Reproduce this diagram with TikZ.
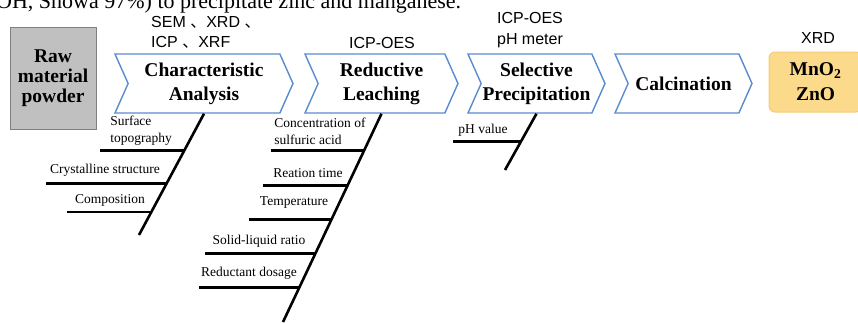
\documentclass[tikz,border=0pt]{standalone}
\usepackage{fontspec}
\setmainfont{Liberation Serif}
\setsansfont{Liberation Sans}
\newfontfamily\cjk{Noto Sans CJK SC}
\usepackage{xcolor}
\usetikzlibrary{shapes.symbols}
\definecolor{chevblue}{HTML}{5B8BD0}
\definecolor{rawgray}{HTML}{C0C0C0}
\definecolor{prodfill}{HTML}{FCDA8C}
\definecolor{prodline}{HTML}{F3CB75}
\tikzstyle{chev} = [signal, signal from=west, signal to=east, signal pointer angle=132, draw=chevblue, line width=1.4pt, fill=white, minimum height=59pt, align=center, inner sep=0pt, font=\fontsize{19.5}{24}\selectfont\bfseries]
\tikzstyle{bone} = [line width=2.6pt]
\tikzstyle{cause} = [align=left, inner sep=0pt, font=\fontsize{13.5}{17}\selectfont]
\tikzstyle{tool} = [align=left, inner sep=0pt, font=\sffamily\fontsize{16}{20.5}\selectfont]

\begin{document}
\begin{tikzpicture}[x=1pt, y=-1pt]
        \useasboundingbox (0,0) rectangle (858,322);
        \clip (0,0) rectangle (858,322);

        % cut-off line of the page above
        \node[anchor=base west, inner sep=0pt, font=\fontsize{22}{26}\selectfont] (capt) at (-4,8) {OH, Showa 97\%) to precipitate zinc and manganese.};

        % Process steps
        \node[draw=gray, fill=rawgray, line width=1pt, minimum width=86pt, minimum height=102pt, align=center, inner sep=0pt, font=\fontsize{19.5}{20}\selectfont\bfseries] (raw) at (53,78) {Raw\\material\\powder};
        \node[chev, minimum width=178pt] (ca) at (204,83.5) {Characteristic\\Analysis};
        \node[chev, minimum width=153pt] (rl) at (381.5,83.5) {Reductive\\Leaching};
        \node[chev, minimum width=137pt] (sp) at (536.5,83.5) {Selective\\Precipitation};
        \node[chev, minimum width=137pt] (cal) at (683.5,83.5) {Calcination};
        \node[draw=prodline, fill=prodfill, rounded corners=6pt, line width=1pt, minimum width=93pt, minimum height=60pt, align=center, inner sep=0pt, font=\fontsize{19.5}{25}\selectfont\bfseries] (prod) at (815.5,82) {MnO\textsubscript{2}\\ZnO};

        % Instruments
        \node[tool, anchor=west] (ca-tool) at (151,32.5) {SEM\ {\cjk 、}XRD\ {\cjk 、}\\ICP\ {\cjk 、}XRF};
        \node[tool] (rl-tool) at (382,43) {ICP-OES};
        \node[tool] (sp-tool) at (530,30) {ICP-OES\\pH meter};
        \node[tool] (prod-tool) at (818,38) {XRD};

        % Bones
        \coordinate (ca-end) at (139,235);
        \coordinate (rl-end) at (283,322);
        \coordinate (sp-end) at (505,170);
        \draw[bone] (ca.south) -- (ca-end) coordinate[pos=0.303] (ca-1) coordinate[pos=0.574] (ca-2) coordinate[pos=0.811] (ca-3);
        \draw[bone] (rl.south) -- (rl-end) coordinate[pos=0.177] (rl-1) coordinate[pos=0.344] (rl-2) coordinate[pos=0.507] (rl-3) coordinate[pos=0.670] (rl-4) coordinate[pos=0.833] (rl-5);
        \draw[bone] (sp.south) -- (sp-end) coordinate[pos=0.49] (sp-1);

        \coordinate (surf-l) at (100,0);
        \coordinate (cryst-l) at (46,0);
        \coordinate (comp-l) at (67,0);
        \coordinate (conc-l) at (271,0);
        \coordinate (time-l) at (263,0);
        \coordinate (temp-l) at (249,0);
        \coordinate (ratio-l) at (205,0);
        \coordinate (dose-l) at (199,0);
        \coordinate (ph-l) at (453,0);

        \draw[bone] (ca-1) -- (ca-1 -| surf-l);
        \draw[bone] (ca-2) -- (ca-2 -| cryst-l);
        \draw[bone] (ca-3) -- (ca-3 -| comp-l);
        \draw[bone] (rl-1) -- (rl-1 -| conc-l);
        \draw[bone] (rl-2) -- (rl-2 -| time-l);
        \draw[bone] (rl-3) -- (rl-3 -| temp-l);
        \draw[bone] (rl-4) -- (rl-4 -| ratio-l);
        \draw[bone] (rl-5) -- (rl-5 -| dose-l);
        \draw[bone] (sp-1) -- (sp-1 -| ph-l);

        % Causes
        \node[cause] (surf) at (141,131) {Surface\\topography};
        \node[cause] (cryst) at (105,170) {Crystalline structure};
        \node[cause] (comp) at (110,200) {Composition};
        \node[cause] (conc) at (320,131) {Concentration of\\sulfuric acid};
        \node[cause] (time) at (308,173) {Reation time};
        \node[cause] (temp) at (294,203) {Temperature};
        \node[cause] (ratio) at (259,241) {Solid-liquid ratio};
        \node[cause] (dose) at (249,273) {Reductant dosage};
        \node[cause] (ph) at (483,130) {pH value};

    \end{tikzpicture}
\end{document}
